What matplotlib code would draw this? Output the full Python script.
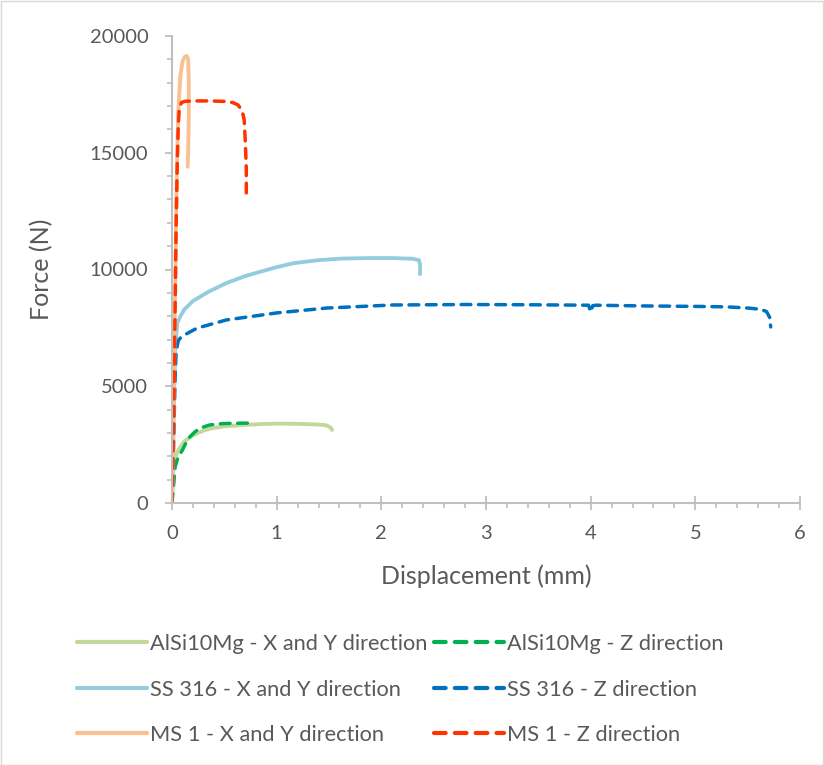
import matplotlib
matplotlib.use("Agg")
import matplotlib.pyplot as plt
from matplotlib.ticker import MultipleLocator
from matplotlib.patches import Rectangle

plt.rcParams['font.family'] = ['Lato', 'DejaVu Sans']

# ---- data ----
alsi_xy_x = [0, 0.005, 0.01, 0.02, 0.03, 0.05, 0.08, 0.12, 0.2, 0.3, 0.39, 0.5, 0.68, 0.85, 1.0, 1.2, 1.4, 1.47, 1.51, 1.53]
alsi_xy_y = [0, 800, 1300, 1700, 1930, 2180, 2400, 2650, 2900, 3100, 3210, 3280, 3340, 3380, 3400, 3390, 3360, 3330, 3250, 3130]

alsi_z_x = [0, 0.01, 0.02, 0.03, 0.05, 0.07, 0.1, 0.13, 0.17, 0.22, 0.27, 0.36, 0.45, 0.55, 0.68, 0.72]
alsi_z_y = [0, 500, 1000, 1540, 1850, 2050, 2270, 2550, 2830, 3050, 3210, 3340, 3390, 3410, 3420, 3420]

ss_xy_x = [0, 0.01, 0.02, 0.03, 0.05, 0.08, 0.12, 0.2, 0.35, 0.52, 0.7, 0.84, 1.0, 1.16, 1.4, 1.63, 1.9, 2.11, 2.3, 2.36, 2.37, 2.37]
ss_xy_y = [0, 2000, 4500, 6500, 7700, 8000, 8300, 8650, 9050, 9420, 9720, 9900, 10100, 10270, 10400, 10470, 10490, 10490, 10460, 10400, 10200, 9800]

ss_z_x = [0, 0.01, 0.02, 0.03, 0.04, 0.06, 0.08, 0.12, 0.24, 0.52, 1.0, 1.48, 2.11, 2.8, 3.4, 3.7, 3.98, 4.0, 4.02, 4.05, 4.5, 5.0, 5.3, 5.5, 5.62, 5.68, 5.71, 5.72]
ss_z_y = [0, 1500, 3500, 5500, 6500, 6950, 7070, 7200, 7490, 7840, 8140, 8350, 8480, 8500, 8490, 8480, 8470, 8180, 8450, 8470, 8440, 8420, 8400, 8350, 8300, 8200, 7950, 7540]

ms_xy_x = [0, 0.01, 0.02, 0.03, 0.04, 0.05, 0.06, 0.08, 0.10, 0.12, 0.14, 0.155, 0.16, 0.16, 0.155, 0.15]
ms_xy_y = [0, 2500, 5500, 9000, 12500, 15000, 16800, 18300, 18900, 19100, 19150, 19000, 18000, 16500, 15200, 14400]

ms_z_x = [0, 0.01, 0.02, 0.03, 0.04, 0.05, 0.06, 0.07, 0.09, 0.12, 0.2, 0.35, 0.5, 0.58, 0.63, 0.67, 0.69, 0.70, 0.71, 0.71]
ms_z_y = [0, 2000, 5000, 8500, 12000, 14500, 16200, 16900, 17150, 17200, 17220, 17220, 17200, 17150, 17050, 16800, 16400, 15500, 14300, 13100]

labels = ["AlSi10Mg - X and Y direction", "AlSi10Mg - Z direction",
          "SS 316 - X and Y direction", "SS 316 - Z direction",
          "MS 1 - X and Y direction", "MS 1 - Z direction"]
colors = ["#C4D79B", "#00B050", "#93CDDD", "#0070C0", "#FAC090", "#FF3300"]

txt = "#595959"
axc = "#BFBFBF"

fig = plt.figure(figsize=(8.24, 7.65), dpi=100)
ax = fig.add_axes([172/824, 1-503/765, (800-172)/824, (503-36)/765])

series = [(alsi_xy_x, alsi_xy_y), (alsi_z_x, alsi_z_y), (ss_xy_x, ss_xy_y),
          (ss_z_x, ss_z_y), (ms_xy_x, ms_xy_y), (ms_z_x, ms_z_y)]
handles = []
for i, ((x, y), lab, c) in enumerate(zip(series, labels, colors)):
    if i % 2 == 0:
        h, = ax.plot(x, y, color=c, lw=2.75, solid_capstyle='round', solid_joinstyle='round', label=lab)
    else:
        h, = ax.plot(x, y, color=c, lw=2.5, dashes=(2.8, 2.2), dash_capstyle='round', dash_joinstyle='round', label=lab)
    handles.append(h)

ax.set_xlim(0, 6)
ax.set_ylim(0, 20000)
ax.xaxis.set_major_locator(MultipleLocator(1))
ax.xaxis.set_minor_locator(MultipleLocator(0.2))
ax.yaxis.set_major_locator(MultipleLocator(5000))
ax.yaxis.set_minor_locator(MultipleLocator(1000))

for s in ['top', 'right']:
    ax.spines[s].set_visible(False)
for s in ['left', 'bottom']:
    ax.spines[s].set_color(axc)
    ax.spines[s].set_linewidth(1.5)

ax.tick_params(axis='x', which='major', direction='inout', length=10, width=1.3, color=axc,
               labelsize=14.5, labelcolor=txt, pad=11)
ax.tick_params(axis='x', which='minor', direction='out', length=3.5, width=1.2, color=axc)
ax.tick_params(axis='y', which='major', direction='out', length=5, width=1.3, color=axc,
               labelsize=14.5, labelcolor=txt, pad=12)
ax.tick_params(axis='y', which='minor', direction='out', length=3.5, width=1.2, color=axc)

ax.set_xlabel("Displacement (mm)", fontsize=18, color=txt, labelpad=16)
ax.set_ylabel("Force (N)", fontsize=18, color=txt, labelpad=26)

order = [0, 2, 4, 1, 3, 5]
leg = fig.legend(handles=[handles[i] for i in order], labels=[labels[i] for i in order],
                 ncol=2, loc='upper left',
                 bbox_to_anchor=(77/824, 1-634/765), frameon=False, fontsize=15.7,
                 handlelength=3.2, handletextpad=0.15, columnspacing=0.3,
                 labelspacing=1.17, borderpad=0, borderaxespad=0)
for t in leg.get_texts():
    t.set_color(txt)
for lh in leg.get_lines():
    lh.set_linewidth(3)

fig.patches.append(Rectangle((0.5/824, 0.5/765), 1-1.5/824, 1-1.5/765, transform=fig.transFigure,
                             fill=False, edgecolor="#D9D9D9", lw=1))

fig.savefig("out.png", dpi=100)
